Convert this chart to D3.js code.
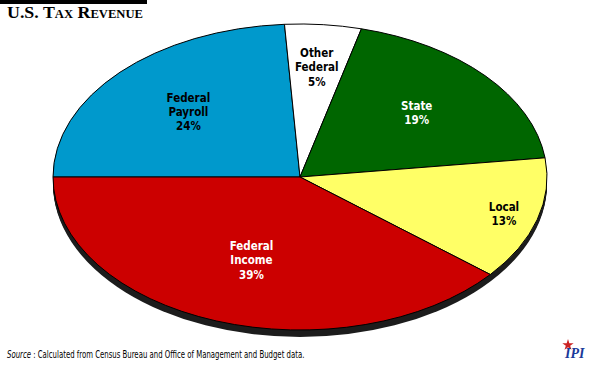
<!DOCTYPE html>
<html>
<head>
<meta charset="utf-8">
<script src="https://cdn.jsdelivr.net/npm/d3@7"></script>
<style>
  html, body { margin: 0; padding: 0; background: #fff; }
  svg { display: block; }
</style>
</head>
<body>
<script>
// ---- data ----
const categories = ["Federal\nPayroll", "Other\nFederal", "State", "Local", "Federal\nIncome"];
const values = [24, 5, 19, 13, 39];
const colors = ["#0099CC", "#FFFFFF", "#006600", "#FFFF66", "#CC0000"];
const labelColors = ["#000", "#000", "#fff", "#000", "#fff"];
const labelRadius = [0.62, 0.72, 0.63, 0.86, 0.58];

const W = 600, H = 365;
const cx = 300, cy = 177, rx = 247, ry = 153, depth = 7;
const narrow = "DejaVu Sans Condensed, Liberation Sans Narrow, Arial Narrow, sans-serif";

const svg = d3.select("body").append("svg").attr("width", W).attr("height", H);

// title
svg.append("rect").attr("x", 0).attr("y", 0).attr("width", 147).attr("height", 4).attr("fill", "#000");
svg.append("text").attr("x", 7).attr("y", 17.5)
  .attr("font-family", "Liberation Serif, serif").attr("font-weight", "bold")
  .attr("font-size", 17).style("font-variant", "small-caps")
  .attr("textLength", 136).attr("lengthAdjust", "spacingAndGlyphs")
  .text("U.S. Tax Revenue");

// depth / shadow
const g = svg.append("g").attr("transform", `translate(${cx},${cy})`);
d3.range(1, depth + 1).forEach(d => {
  g.append("ellipse").attr("cx", 0).attr("cy", d).attr("rx", rx).attr("ry", ry)
    .attr("fill", "#1c1c1c");
});

const pie = d3.pie().sort(null).startAngle(-Math.PI / 2).endAngle(3 * Math.PI / 2);
const arcs = pie(values);
const arc = d3.arc().innerRadius(0).outerRadius(ry);

const pg = g.append("g").attr("transform", `scale(${rx / ry},1)`);
pg.selectAll("path").data(arcs).enter().append("path")
  .attr("d", arc)
  .attr("fill", (d, i) => colors[i])
  .attr("stroke", "#000").attr("stroke-width", 1)
  .attr("vector-effect", "non-scaling-stroke");

// labels
arcs.forEach((d, i) => {
  const a = (d.startAngle + d.endAngle) / 2;
  const r = labelRadius[i];
  const x = Math.sin(a) * rx * r;
  const y = -Math.cos(a) * ry * r;
  const lines = categories[i].split("\n").concat([values[i] + "%"]);
  const t = g.append("text").attr("text-anchor", "middle")
    .attr("font-family", narrow)
    .attr("font-weight", "bold").attr("font-size", 11.5)
    .attr("fill", labelColors[i]);
  const lh = 14.3;
  const y0 = y - (lines.length - 1) * lh / 2 + 4;
  lines.forEach((ln, k) => {
    t.append("tspan").attr("x", x).attr("y", y0 + k * lh).text(ln);
  });
});

// source
const src = svg.append("text")
  .attr("font-family", narrow).attr("font-size", 10).attr("fill", "#000");
src.append("tspan").attr("font-style", "italic").text("Source");
src.append("tspan").text(" : Calculated from Census Bureau and Office of Management and Budget data.");
const sw = src.node().getComputedTextLength();
src.attr("transform", `translate(7,358) scale(${298 / sw},1)`);

// IPI logo
const logo = svg.append("g").attr("transform", "translate(563,345)");
logo.append("path").attr("d", d3.symbol(d3.symbolStar, 40)()).attr("fill", "#cc2222")
  .attr("transform", "translate(5,0)");
logo.append("text").attr("x", 2).attr("y", 13)
  .attr("font-family", "Liberation Serif, serif").attr("font-weight", "bold").attr("font-style", "italic")
  .attr("font-size", 14).attr("fill", "#1a3a9a").text("IPI");
</script>
</body>
</html>
